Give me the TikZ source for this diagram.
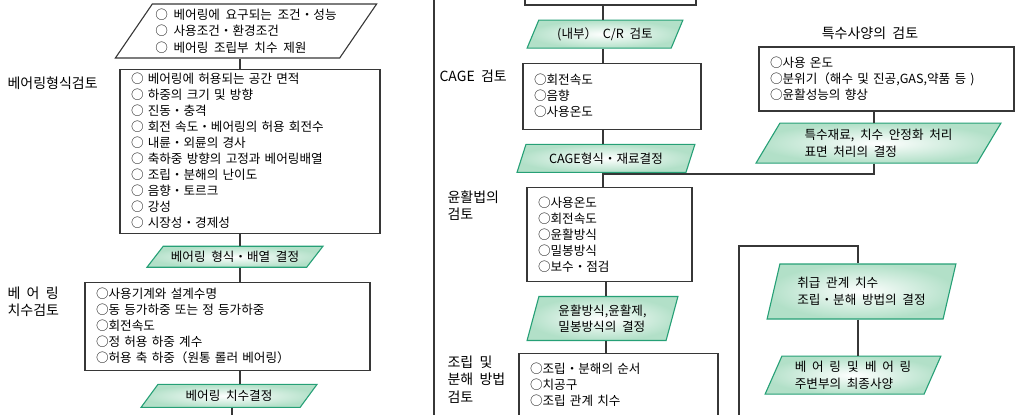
\documentclass[tikz,border=0pt]{standalone}
\usepackage{fontspec}
\setmainfont{Noto Sans CJK KR}[WordSpace=2]
\usepackage{xcolor}
\usetikzlibrary{shapes.geometric, positioning, calc}
\definecolor{paraedge}{RGB}{38,160,118}
\definecolor{parafill}{RGB}{178,224,200}
\definecolor{lineclr}{RGB}{55,55,55}

\begin{document}
\begin{tikzpicture}[x=1pt, y=-1pt, line width=1.1pt]
    \tikzset{
        block/.style={rectangle, draw=lineclr, fill=white, align=left, inner xsep=11pt, inner ysep=3pt, font=\fontsize{12.6}{16}\selectfont},
        slant/.style={trapezium, trapezium stretches=true, inner sep=2pt, align=left, font=\fontsize{12.6}{16.5}\selectfont},
        decide/.style={slant, draw=paraedge, inner color=white, outer color=parafill},
        given/.style={slant, draw=lineclr, fill=white},
        tag/.style={anchor=north west, inner sep=0pt, align=left, font=\fontsize{14}{17.5}\selectfont},
        line/.style={draw=lineclr}
    }
    \useasboundingbox (0,0) rectangle (1015,415);

    % left column
    \node (Req) [given, trapezium left angle=53, trapezium right angle=127, minimum width=262pt, minimum height=54pt] at (246,31)
        {○ 베어링에 요구되는 조건・성능\\○ 사용조건・환경조건\\○ 베어링 조립부 치수 제원};
    \node (TypeChk) [block, text width=238pt, minimum height=164pt, below=10pt of Req, xshift=4pt]
        {○ 베어링에 허용되는 공간 면적\\○ 하중의 크기 및 방향\\○ 진동・충격\\○ 회전 속도・베어링의 허용 회전수\\○ 내륜・외륜의 경사\\○ 축하중 방향의 고정과 베어링배열\\○ 조립・분해의 난이도\\○ 음향・토르크\\○ 강성\\○ 시장성・경제성};
    \node (TypeSel) [decide, trapezium left angle=46, trapezium right angle=134, minimum width=176pt, minimum height=21pt, below=12pt of TypeChk, xshift=-15pt] {베어링 형식・배열 결정};
    \node (SizeChk) [block, text width=263pt, minimum height=88pt, below=14pt of TypeSel, xshift=-7.5pt]
        {○사용기계와 설계수명\\○동 등가하중 또는 정 등가하중\\○회전속도\\○정 허용 하중 계수\\○허용 축 하중（원통 롤러 베어링）};
    \node (SizeSel) [decide, trapezium left angle=55, trapezium right angle=125, minimum width=176pt, minimum height=23pt, below=13pt of SizeChk, xshift=1.5pt] {베어링 치수결정};

    \node (TypeTag) [tag] at (7,76) {베어링형식검토};
    \node (SizeTag) [tag] at (7,286) {베 어 링\\치수검토};

    % middle column
    \node (CRTop) [block, minimum width=171pt, minimum height=40pt] at (610.5,-15) {};
    \node (CR) [decide, trapezium left angle=63, trapezium right angle=117, minimum width=156pt, minimum height=28pt, below=14pt of CRTop, xshift=-5.5pt] {(내부） C/R 검토};
    \node (Cage) [block, text width=156pt, minimum height=66pt, below=14pt of CR, xshift=7pt] {○회전속도\\○음향\\○사용온도};
    \node (CageSel) [decide, trapezium left angle=67, trapezium right angle=113, minimum width=178pt, minimum height=28pt, below=14pt of Cage, xshift=-6pt] {CAGE형식・재료결정};
    \node (Lub) [block, text width=143pt, minimum height=94pt, below=14pt of CageSel, xshift=3.5pt] {○사용온도\\○회전속도\\○윤활방식\\○밀봉방식\\○보수・점검};
    \node (LubSel) [decide, trapezium left angle=75, trapezium right angle=105, minimum width=151pt, minimum height=44pt, below=14pt of Lub, xshift=-7pt] {윤활방식,윤활제,\\밀봉방식의 결정};
    \node (Asm) [block, text width=177pt, minimum height=62pt, below=12pt of LubSel, xshift=16pt] {○조립・분해의 순서\\○치공구\\○조립 관계 치수};

    \node (CageTag) [tag] at (439,69) {CAGE 검토};
    \node (LubTag) [tag] at (447,190) {윤활법의\\검토};
    \node (AsmTag) [tag] at (447,355) {조립 및\\분해 방법\\검토};

    % right column
    \node (SpecTitle) [font=\fontsize{14}{17.5}\selectfont] at (870,33) {특수사양의 검토};
    \node (Spec) [block, text width=233pt, minimum height=64pt] at (886.5,79) {○사용 온도\\○분위기（해수 및 진공,GAS,약품 등 )\\○윤활성능의 향상};
    \node (SpecSel) [decide, trapezium left angle=60, trapezium right angle=120, minimum width=245pt, minimum height=40pt, below=11pt of Spec, xshift=-8pt] {특수재료, 치수 안정화 처리\\표면 처리의 결정};
    \node (Handle) [decide, trapezium left angle=72, trapezium right angle=108, minimum width=189pt, minimum height=55pt] at (861.5,291.5) {취급 관계 치수\\조립・분해 방법의 결정};
    \node (Final) [decide, trapezium left angle=66, trapezium right angle=114, minimum width=176pt, minimum height=38pt, below=36pt of Handle, xshift=-8.5pt] {베 어 링\enspace 및\enspace 베 어 링\\주변부의 최종사양};

    % connectors
    \coordinate (LeftX) at (240,0);
    \coordinate (LeftEnd) at (232,415);
    \coordinate (DivTop) at (434,0);
    \coordinate (DivEnd) at (434,415);
    \coordinate (MidX) at (603,0);
    \coordinate (MidX2) at (606,0);
    \coordinate (MidEnd) at (611,415);
    \coordinate (Split) at (603,174);
    \coordinate (SpecX) at (874,174);
    \coordinate (HandleX) at (858,246);
    \coordinate (RightEnd) at (739,415);

    \path [line] (Req.south -| LeftX) -- (TypeChk.north -| LeftX);
    \path [line] (TypeChk.south -| LeftX) -- (TypeSel.north -| LeftX);
    \path [line] (TypeSel.south -| LeftX) -- (SizeChk.north -| LeftX);
    \path [line] (SizeChk.south -| LeftX) -- (SizeSel.north -| LeftX);
    \path [line] (SizeSel.south -| LeftEnd) -- (LeftEnd);
    \path [line] (DivTop) -- (DivEnd);

    \path [line] (CRTop.south -| MidX) -- (CR.north -| MidX);
    \path [line] (CR.south -| MidX) -- (Cage.north -| MidX);
    \path [line] (Cage.south -| MidX) -- (CageSel.north -| MidX);
    \path [line] (CageSel.south -| MidX) -- (Lub.north -| MidX);
    \path [line] (Lub.south -| MidX2) -- (LubSel.north -| MidX2);
    \path [line] (LubSel.south -| MidX2) -- (Asm.north -| MidX2);
    \path [line] (Asm.south -| MidEnd) -- (MidEnd);

    \path [line] (Spec.south -| SpecX) -- (SpecSel.north -| SpecX);
    \path [line] (SpecSel.south -| SpecX) -- (SpecX) -- (Split);
    \path [line] (RightEnd) |- (HandleX) -- (Handle.north -| HandleX);
    \path [line] (Handle.south -| HandleX) -- (Final.north -| HandleX);

\end{tikzpicture}
\end{document}
